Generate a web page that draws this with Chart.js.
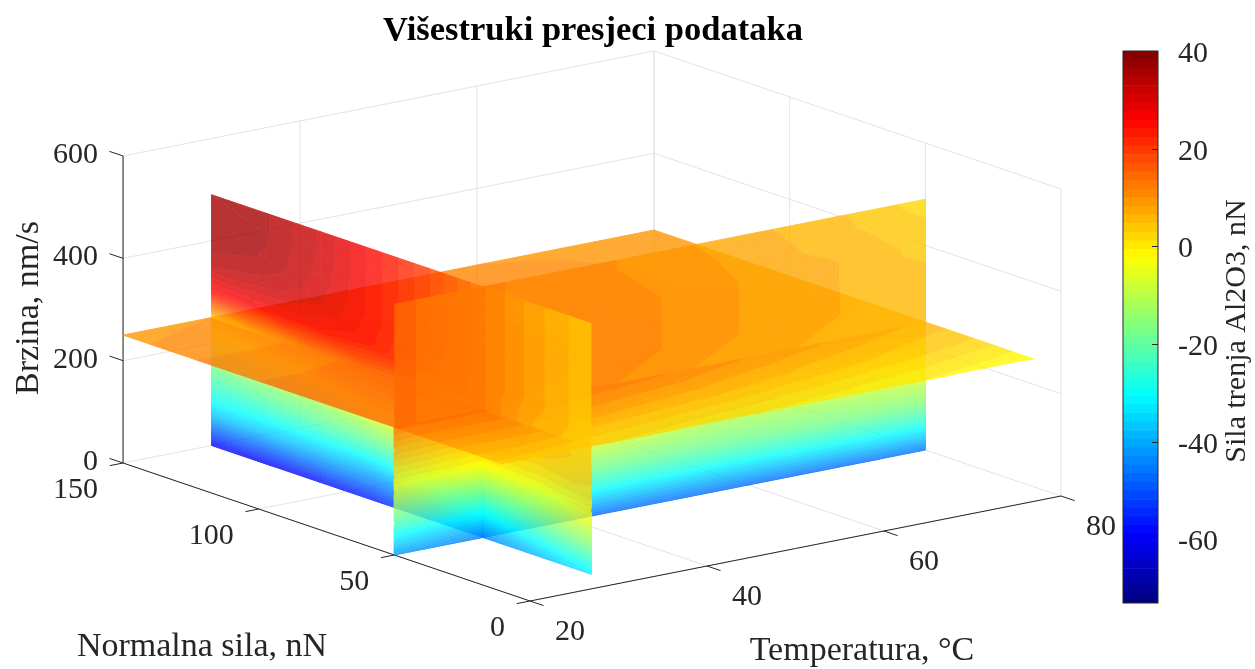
<!DOCTYPE html>
<html>
<head>
<meta charset="utf-8">
<style>
  html, body { margin: 0; padding: 0; background: #fff; overflow: hidden; }
  #wrap { position: relative; width: 1255px; height: 669px; }
  #plot { position: absolute; left: 0; top: 0; }
  #bar { position: absolute; left: 1100px; top: 0; }
</style>
<script src="https://cdn.jsdelivr.net/npm/chart.js@4/dist/chart.umd.js"></script>
</head>
<body>
<div id="wrap">
  <canvas id="plot" width="1186" height="669"></canvas>
  <canvas id="bar" width="155" height="669"></canvas>
</div>
<script>
// Axis ticks
const tempTicks = [20, 40, 60, 80];
const forceTicks = [0, 50, 100, 150];
const speedTicks = [0, 200, 400, 600];
const barTicks = [-60, -40, -20, 0, 20, 40];

// Slice positions
const sliceTemp = 30;
const sliceForce = 50;
const sliceSpeed = 250;

// Grid nodes of the slices
const tempNodes = [20, 30, 40, 50, 60, 70, 80];
const forceNodes = [10, 30, 50, 70, 90, 110, 130, 150];
const speedNodes = [0, 30, 60, 90, 120, 150, 200, 250, 300, 350, 400, 450, 490];

// Friction on the T = 30 slice, one row per speed node, one column per force node
const frictionAtTemp = [
  [-33, -39, -45, -52, -56, -58, -59, -60],
  [-24, -30, -36, -43, -46, -47, -48, -48],
  [-15, -21, -27, -33, -37, -37, -37, -37],
  [-8, -13, -18, -23, -27, -28, -29, -29],
  [-2, -6, -9, -14, -18, -20, -22, -24],
  [2, 0, -1, -7, -10, -14, -16, -18],
  [4, 5, 6, 4, 3, -2, -5, -8],
  [3, 6, 12, 13, 14, 12, 8, 4],
  [3, 7, 12, 18, 24, 26, 26, 25],
  [3, 7, 12, 19, 25, 29.5, 32, 33],
  [3, 7, 12, 19, 25, 30.5, 34.5, 36],
  [3, 7, 12, 19, 25, 31, 35, 36],
  [3, 7, 12, 19, 25, 31, 35, 36],
];

// Friction on the F = 50 slice, one row per speed node, one column per temperature node
const frictionAtForce = [
  [-42, -45, -47, -47, -47, -47, -46],
  [-33, -36, -37, -37, -37, -36, -35],
  [-23, -27, -27, -27, -27, -26, -25],
  [-15, -18, -18, -19, -19, -18, -17],
  [-7, -9, -11, -13, -14, -13, -11],
  [0, -1, -5, -8, -10, -8, -6],
  [7, 6, 4, 1, -1, 0, 1],
  [14, 12, 11, 9, 7, 6, 5],
  [14, 12, 12, 10, 8, 6.5, 5.5],
  [14, 12, 12, 10, 8, 6.5, 5],
  [14, 12, 11.5, 10, 8, 6.5, 4],
  [14, 12, 11, 9.5, 7.5, 5.5, 3],
  [14, 12, 11, 9, 7, 5, 2],
];

// Friction on the v = 250 slice, one row per temperature node, one column per force node
const frictionAtSpeed = [
  [4, 9, 14, 15, 14, 13, 11, 9],
  [3, 9, 14, 15.5, 14.5, 13, 11, 10],
  [2, 8, 13, 14.5, 14, 13, 11.5, 10.5],
  [1, 7, 12, 13, 13, 12.5, 11.5, 10.5],
  [0, 5.5, 10, 12, 12, 11.5, 11, 10],
  [-1, 4, 8, 10, 10.5, 10, 10, 9.5],
  [-2.5, 2.5, 6, 8, 9, 9, 9, 9],
];

// Colour range
const colorMin = -73;
const colorMax = 40;
const colorLevels = 64;
const sliceAlpha = 0.8;

// Oblique view of the box, in canvas pixels
const project = (t, f, v) => ({
  x: 530 + (t - 20) * 8.85 - f * 2.713,
  y: 601 - (t - 20) * 1.75 - f * 0.92 - v * 0.5117,
});

const jet = (i) => {
  const s = (i + 0.5) / colorLevels;
  const c = (k) => Math.round(255 * Math.max(0, Math.min(1, 1.5 - Math.abs(4 * s - k))));
  return `rgb(${c(3)},${c(2)},${c(1)})`;
};
const levelOf = (val) =>
  Math.max(0, Math.min(colorLevels - 1, Math.floor(((val - colorMin) / (colorMax - colorMin)) * colorLevels)));
const levelEdge = (i) => colorMin + (i / colorLevels) * (colorMax - colorMin);

// Keep the part of a polygon on one side of a friction value
const clipPolygon = (poly, limit, keepAbove) => {
  const out = [];
  poly.forEach((a, i) => {
    const b = poly[(i + 1) % poly.length];
    const aIn = keepAbove ? a.val >= limit : a.val <= limit;
    const bIn = keepAbove ? b.val >= limit : b.val <= limit;
    if (aIn) out.push(a);
    if (aIn !== bIn) {
      const k = (limit - a.val) / (b.val - a.val);
      out.push({
        t: a.t + (b.t - a.t) * k,
        f: a.f + (b.f - a.f) * k,
        v: a.v + (b.v - a.v) * k,
        val: limit,
      });
    }
  });
  return out;
};

// Painter's order: far part first, layers are composited one by one
const layers = [[], [], [], [], [], [], []];

const addTriangle = (layer, tri) => {
  const vals = tri.map((p) => p.val);
  const lo = levelOf(Math.min(...vals));
  const hi = levelOf(Math.max(...vals));
  for (let i = lo; i <= hi; i++) {
    let poly = tri;
    if (i > 0) poly = clipPolygon(poly, levelEdge(i), true);
    if (i < colorLevels - 1 && poly.length) poly = clipPolygon(poly, levelEdge(i + 1), false);
    if (poly.length < 3) continue;
    layers[layer].push({
      type: 'scatter',
      layer: layer,
      data: poly.map((p) => project(p.t, p.f, p.v)),
      showLine: true,
      fill: 'shape',
      backgroundColor: jet(i),
      borderColor: jet(i),
      borderWidth: 1,
      pointRadius: 0,
      clip: false,
    });
  }
};

const addSlice = (rows, cols, table, nodeAt, layerAt) => {
  for (let r = 0; r < rows.length - 1; r++) {
    for (let c = 0; c < cols.length - 1; c++) {
      const n = (i, j) => ({ ...nodeAt(rows[i], cols[j]), val: table[i][j] });
      const a = n(r, c);
      const b = n(r, c + 1);
      const d = n(r + 1, c);
      const e = n(r + 1, c + 1);
      const layer = layerAt(rows[r], cols[c]);
      addTriangle(layer, [a, b, e]);
      addTriangle(layer, [a, e, d]);
    }
  }
};

addSlice(speedNodes, forceNodes, frictionAtTemp,
  (v, f) => ({ t: sliceTemp, f, v }),
  (v) => (v < sliceSpeed ? 1 : 5));
addSlice(speedNodes, tempNodes, frictionAtForce,
  (v, t) => ({ t, f: sliceForce, v }),
  (v, t) => {
    if (v < sliceSpeed) return t < sliceTemp ? 2 : 0;
    return t < sliceTemp ? 6 : 4;
  });
addSlice(tempNodes, forceNodes, frictionAtSpeed,
  (t, f) => ({ t, f, v: sliceSpeed }),
  () => 3);

// Grid and axis lines
const segment = (a, b, color) => ({
  type: 'scatter',
  data: [project(...a), project(...b)],
  showLine: true,
  fill: false,
  borderColor: color,
  borderWidth: 1,
  pointRadius: 0,
  clip: false,
});

const gridColor = '#e2e2e2';
const axisColor = '#262626';
const guides = [];
const [tMin, tMax] = [tempTicks[0], tempTicks[tempTicks.length - 1]];
const [fMin, fMax] = [forceTicks[0], forceTicks[forceTicks.length - 1]];
const [vMin, vMax] = [speedTicks[0], speedTicks[speedTicks.length - 1]];

tempTicks.forEach((t) => {
  guides.push(segment([t, fMin, vMin], [t, fMax, vMin], gridColor));
  guides.push(segment([t, fMax, vMin], [t, fMax, vMax], gridColor));
});
forceTicks.forEach((f) => {
  guides.push(segment([tMin, f, vMin], [tMax, f, vMin], gridColor));
  guides.push(segment([tMax, f, vMin], [tMax, f, vMax], gridColor));
});
speedTicks.slice(1).forEach((v) => {
  guides.push(segment([tMin, fMax, v], [tMax, fMax, v], gridColor));
  guides.push(segment([tMax, fMax, v], [tMax, fMin, v], gridColor));
});

guides.push(segment([tMin, fMin, vMin], [tMax, fMin, vMin], axisColor));
guides.push(segment([tMin, fMin, vMin], [tMin, fMax, vMin], axisColor));
guides.push(segment([tMin, fMax, vMin], [tMin, fMax, vMax], axisColor));
tempTicks.forEach((t) => guides.push(segment([t, fMin, vMin], [t, fMin - 5, vMin], axisColor)));
forceTicks.forEach((f) => guides.push(segment([tMin, f, vMin], [tMin - 1.5, f, vMin], axisColor)));
speedTicks.forEach((v) => guides.push(segment([tMin, fMax, v], [tMin, fMax + 5, v], axisColor)));

// Chart.js paints the last dataset first
const painted = guides.concat(...layers);
const datasets = painted.slice().reverse();

// Each slice part goes to its own canvas opaque, then onto the chart with alpha
const layerCanvas = document.createElement('canvas');
const sliceLayers = {
  id: 'sliceLayers',
  beforeDatasetsDraw(chart) {
    this.main = chart.ctx;
    layerCanvas.width = chart.canvas.width;
    layerCanvas.height = chart.canvas.height;
    this.layerCtx = layerCanvas.getContext('2d');
  },
  afterDatasetDraw(chart, args) {
    const cur = chart.data.datasets[args.index];
    const next = chart.data.datasets[args.index - 1];
    const curLayer = cur.layer ?? null;
    const nextLayer = next ? next.layer ?? null : null;
    if (curLayer !== null && curLayer !== nextLayer) {
      this.main.save();
      this.main.globalAlpha = sliceAlpha;
      this.main.drawImage(layerCanvas, 0, 0);
      this.main.restore();
      this.layerCtx.clearRect(0, 0, layerCanvas.width, layerCanvas.height);
    }
    if (next) {
      const target = nextLayer === null ? this.main : this.layerCtx;
      chart.ctx = target;
      chart.getDatasetMeta(args.index - 1).controller._ctx = target;
    }
  },
  afterDatasetsDraw(chart) {
    chart.ctx = this.main;
  },
};

// Tick and axis text
const tickFont = '30px "Liberation Serif"';
const labelFont = '34px "Liberation Serif"';
const textColor = '#262626';

const axisText = {
  id: 'axisText',
  afterDraw(chart) {
    const { ctx } = chart;
    const put = (text, x, y, align) => {
      ctx.textAlign = align;
      ctx.fillText(text, x, y);
    };
    ctx.save();
    ctx.fillStyle = textColor;
    ctx.textBaseline = 'middle';
    ctx.font = tickFont;
    speedTicks.forEach((v) => {
      const p = project(tMin, fMax, v);
      put(String(v), p.x - 25, p.y - 1, 'right');
    });
    forceTicks.forEach((f) => {
      const p = project(tMin, f, vMin);
      put(String(f), p.x - 25, p.y + 27, 'right');
    });
    tempTicks.forEach((t) => {
      const p = project(t, fMin, vMin);
      put(String(t), p.x + 40, p.y + 31, 'center');
    });
    ctx.font = labelFont;
    put('Normalna sila, nN', 202, 647, 'center');
    put('Temperatura, °C', 862, 651, 'center');
    ctx.translate(29, 308);
    ctx.rotate(-Math.PI / 2);
    put('Brzina, nm/s', 0, 0, 'center');
    ctx.restore();
  },
};

new Chart(document.getElementById('plot'), {
  type: 'scatter',
  data: { datasets },
  plugins: [sliceLayers, axisText],
  options: {
    responsive: false,
    animation: false,
    events: [],
    layout: { padding: 0 },
    scales: {
      x: { type: 'linear', min: 0, max: 1186, display: false },
      y: { type: 'linear', min: 50, max: 669, reverse: true, display: false },
    },
    plugins: {
      legend: { display: false },
      tooltip: { enabled: false },
      title: {
        display: true,
        text: 'Višestruki presjeci podataka',
        color: '#000',
        font: { family: '"Liberation Serif"', size: 34.5, weight: 'bold', lineHeight: 1 },
        padding: { top: 14, bottom: 1.5 },
      },
    },
  },
});

// Colour bar
const barLevels = Array.from({ length: colorLevels }, (_, i) => i);

const barFrame = {
  id: 'barFrame',
  afterDraw(chart) {
    const { ctx, chartArea: a, scales } = chart;
    ctx.save();
    ctx.strokeStyle = axisColor;
    ctx.lineWidth = 1;
    ctx.strokeRect(a.left, a.top, a.right - a.left, a.bottom - a.top);
    barTicks.forEach((val) => {
      const y = Math.round(scales.y.getPixelForValue(val)) + 0.5;
      ctx.beginPath();
      ctx.moveTo(a.right - 6, y);
      ctx.lineTo(a.right, y);
      ctx.stroke();
    });
    ctx.fillStyle = textColor;
    ctx.font = tickFont;
    ctx.textAlign = 'center';
    ctx.textBaseline = 'middle';
    ctx.translate(137, 331);
    ctx.rotate(-Math.PI / 2);
    ctx.fillText('Sila trenja Al2O3, nN', 0, 0);
    ctx.restore();
  },
};

new Chart(document.getElementById('bar'), {
  type: 'bar',
  data: {
    labels: ['bar'],
    datasets: barLevels.map((i) => ({
      data: [[levelEdge(i), levelEdge(i + 1)]],
      backgroundColor: jet(i),
      borderWidth: 0,
      barPercentage: 1,
      categoryPercentage: 1,
      grouped: false,
    })),
  },
  plugins: [barFrame],
  options: {
    responsive: false,
    animation: false,
    events: [],
    layout: { padding: { left: 23, top: 51, bottom: 66 } },
    scales: {
      x: { display: false },
      y: {
        position: 'right',
        min: colorMin,
        max: colorMax,
        grid: { display: false },
        border: { display: false },
        afterBuildTicks: (scale) => {
          scale.ticks = barTicks.map((value) => ({ value }));
        },
        afterFit: (scale) => {
          scale.width = 97;
        },
        ticks: {
          color: textColor,
          padding: 12,
          labelOffset: 3,
          font: { family: '"Liberation Serif"', size: 30 },
        },
      },
    },
    plugins: { legend: { display: false }, tooltip: { enabled: false } },
  },
});
</script>
</body>
</html>
